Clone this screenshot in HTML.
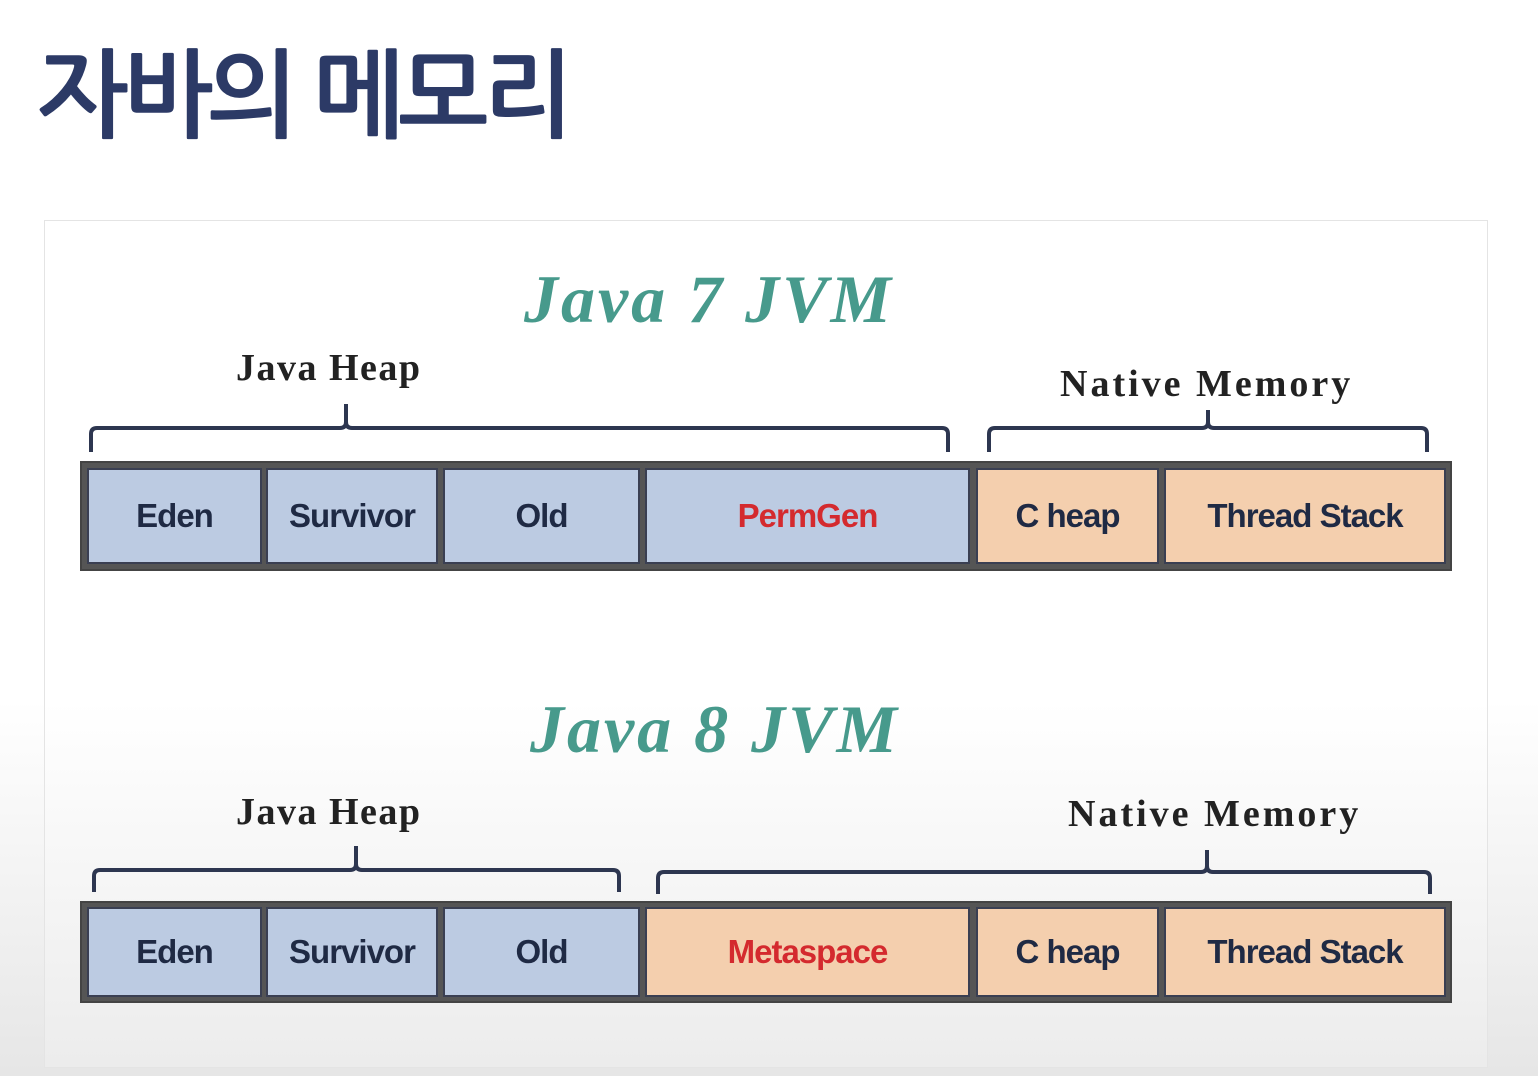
<!DOCTYPE html>
<html><head><meta charset="utf-8"><style>
body{margin:0;width:1538px;height:1076px;overflow:hidden;background:linear-gradient(#fff 0,#fff 700px,#e6e6e6 1076px);font-family:"Liberation Sans",sans-serif;position:relative}
.a{position:absolute}
.title{left:38px;top:42px;font:bold 96px "Liberation Sans","NanumGothic","Noto Sans CJK KR",sans-serif;color:#2c3a66;letter-spacing:-5.5px;line-height:110px}
.panel{left:44px;top:220px;width:1442px;height:846px;border:1px solid #e4e4e4;background:linear-gradient(#fff 0,#fff 480px,#ececec 846px)}
.jt{font:bold italic 68px "Liberation Serif",serif;color:#479a8c;white-space:nowrap;letter-spacing:3px}
.lbl{font:bold 38px "Liberation Serif",serif;color:#222;white-space:nowrap;letter-spacing:1.5px}
.bar{background:#555;border:2px solid #444;box-sizing:border-box}
.c{box-sizing:border-box;border:2px solid #3a3f52;display:flex;align-items:center;justify-content:center;font:bold 33px "Liberation Sans",sans-serif;color:#1f2a44;letter-spacing:-1px}
.b{background:#bccbe2}.o{background:#f4cfae}.r{color:#d42a2e}
</style></head><body>
<div class="a title">자바의 메모리</div>
<div class="a panel"></div>
<div class="a jt" style="left:524px;top:260px">Java 7 JVM</div>
<div class="a lbl" style="left:236px;top:346px">Java Heap</div>
<div class="a lbl" style="left:1060px;top:362px;letter-spacing:3px">Native Memory</div>
<svg class="a" style="left:0;top:0" width="1538" height="1076" fill="none" stroke="#2d3650" stroke-width="4">
<path d="M91 452 V434 Q91 428 97 428 H340 Q346 428 346 422 V404 M346 422 Q346 428 352 428 H942 Q948 428 948 434 V452"/>
<path d="M989 452 V434 Q989 428 995 428 H1202 Q1208 428 1208 422 V410 M1208 422 Q1208 428 1214 428 H1421 Q1427 428 1427 434 V452"/>
<path d="M94 892 V876 Q94 870 100 870 H350 Q356 870 356 864 V846 M356 864 Q356 870 362 870 H613 Q619 870 619 876 V892"/>
<path d="M658 894 V878 Q658 872 664 872 H1201 Q1207 872 1207 866 V850 M1207 866 Q1207 872 1213 872 H1424 Q1430 872 1430 878 V894"/>
</svg>
<div class="a bar" style="left:80px;top:461px;width:1372px;height:110px"></div>
<div class="a c b" style="left:87px;top:468px;width:175px;height:96px">Eden</div>
<div class="a c b" style="left:266px;top:468px;width:172px;height:96px">Survivor</div>
<div class="a c b" style="left:443px;top:468px;width:197px;height:96px">Old</div>
<div class="a c b r" style="left:645px;top:468px;width:325px;height:96px">PermGen</div>
<div class="a c o" style="left:976px;top:468px;width:183px;height:96px">C heap</div>
<div class="a c o" style="left:1164px;top:468px;width:282px;height:96px">Thread Stack</div>
<div class="a jt" style="left:530px;top:690px">Java 8 JVM</div>
<div class="a lbl" style="left:236px;top:790px">Java Heap</div>
<div class="a lbl" style="left:1068px;top:792px;letter-spacing:3px">Native Memory</div>
<div class="a bar" style="left:80px;top:901px;width:1372px;height:102px"></div>
<div class="a c b" style="left:87px;top:907px;width:175px;height:90px">Eden</div>
<div class="a c b" style="left:266px;top:907px;width:172px;height:90px">Survivor</div>
<div class="a c b" style="left:443px;top:907px;width:197px;height:90px">Old</div>
<div class="a c o r" style="left:645px;top:907px;width:325px;height:90px">Metaspace</div>
<div class="a c o" style="left:976px;top:907px;width:183px;height:90px">C heap</div>
<div class="a c o" style="left:1164px;top:907px;width:282px;height:90px">Thread Stack</div>
</body></html>
